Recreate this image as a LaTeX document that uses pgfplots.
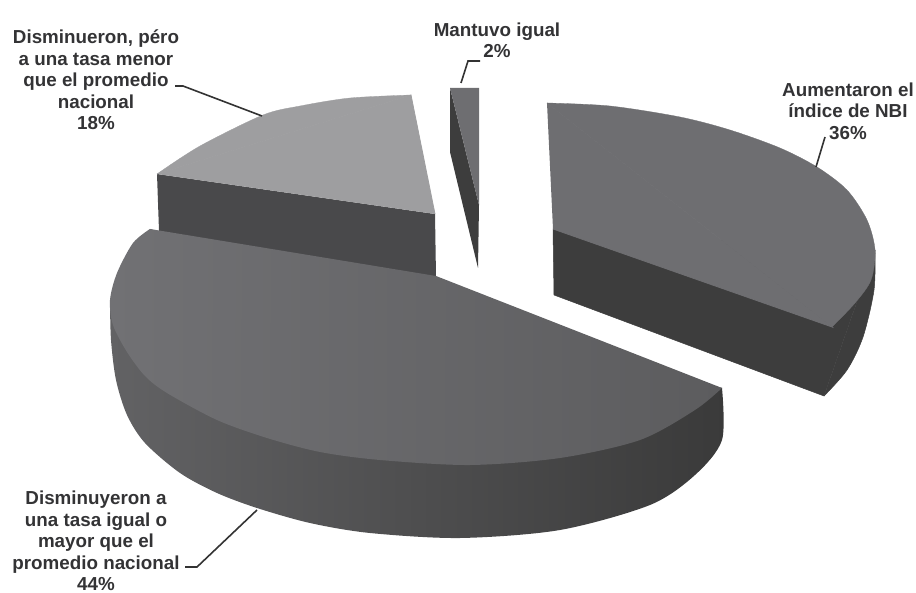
\documentclass[border=0pt]{standalone}
\usepackage{fontspec}
\setmainfont{Liberation Sans}
\usepackage{pgfplots}
\pgfplotsset{compat=1.18}
\definecolor{txt}{HTML}{333335}
\definecolor{topA}{HTML}{717174}
\definecolor{topB}{HTML}{5C5C5E}
\definecolor{sideA}{HTML}{626264}
\definecolor{sideB}{HTML}{3A3A3A}
\definecolor{rightTop}{HTML}{6E6E71}
\definecolor{rightSide}{HTML}{3D3D3D}
\definecolor{lightTop}{HTML}{9E9EA0}
\definecolor{lightSide}{HTML}{49494B}
\tikzset{lab/.style={font=\fontsize{18.8}{21.4}\selectfont\bfseries, text=txt, align=center, inner sep=0pt}}
\begin{document}
\begin{tikzpicture}
\clip (0,0) rectangle (916pt,593pt);
\begin{axis}[
    at={(0,0)}, anchor=south west,
    scale only axis, width=916pt, height=593pt,
    xmin=0, xmax=916, ymin=0, ymax=593, y dir=reverse,
    axis lines=none, clip=false,
]
% 18% slice
\addplot[fill=lightSide, draw=none] coordinates {(157,174) (159,231) (436,277) (435,214)};
\addplot[smooth, fill=lightTop, draw=lightTop, line width=0.3pt] coordinates {(157,174) (200,146) (263,115) (300,106) (350,98) (411,95)};
\addplot[fill=lightTop, draw=lightTop, line width=0.8pt] coordinates {(157,174) (411,95) (435,214)};
% 2% slice
\addplot[fill=rightSide, draw=none] coordinates {(450,88) (450,152) (478,268) (479,205)};
\addplot[fill=rightTop, draw=none] coordinates {(450,88) (479,88) (479,205)};
% 36% slice
\addplot[fill=rightSide, draw=rightSide, line width=0.5pt] coordinates {(553,229) (554,295) (824,396) (875,250)};
\addplot[smooth, fill=rightSide, draw=rightSide, line width=0.5pt] coordinates {(875,250) (874,290) (863,337) (847,370) (824,396)};
\addplot[smooth, fill=rightTop, draw=rightTop, line width=0.3pt] coordinates {(547,103) (610,106) (680,117) (730,130) (780,148) (817,167) (847,190) (867,220) (875,250) (871,280) (855,303) (832,327)};
\addplot[fill=rightTop, draw=rightTop, line width=0.8pt] coordinates {(547,103) (832,327) (553,229)};
% 44% slice
\addplot[smooth, left color=sideA, right color=sideB, draw=none] coordinates {(110,300) (111,340) (116,380) (127,415) (145,443) (180,473) (217,493) (257,508) (310,523) (370,533) (460,538) (560,530) (650,505) (695,475) (722,440) (722,388)};
\addplot[smooth, left color=topA, right color=topB, draw=none] coordinates {(150,229) (133,243) (117,273) (110,300) (113,325) (127,352) (145,376) (167,393) (217,420) (267,438) (320,452) (380,460) (470,465) (560,458) (640,440) (695,410) (722,388)};
\addplot[left color=topA, right color=topB, draw=none] coordinates {(110,300) (150,229) (436,276) (722,388)};
% leader lines
\addplot[black!80, line width=1.6pt] coordinates {(461,83) (468,61) (480,61)};
\addplot[black!80, line width=1.6pt] coordinates {(175,86) (183,86) (262,116)};
\addplot[black!80, line width=1.6pt] coordinates {(816,167) (825,137)};
\addplot[black!80, line width=1.6pt] coordinates {(257,510) (197,567) (185,567)};
% labels
\node[lab] at (axis cs:497,40) {Mantuvo igual\\2\%};
\node[lab] at (axis cs:96,80) {Disminueron, péro\\a una tasa menor\\que el promedio\\nacional\\18\%};
\node[lab] at (axis cs:848,111) {Aumentaron el\\índice de NBI\\36\%};
\node[lab] at (axis cs:96,541) {Disminuyeron a\\una tasa igual o\\mayor que el\\promedio nacional\\44\%};
\end{axis}
\end{tikzpicture}
\end{document}
